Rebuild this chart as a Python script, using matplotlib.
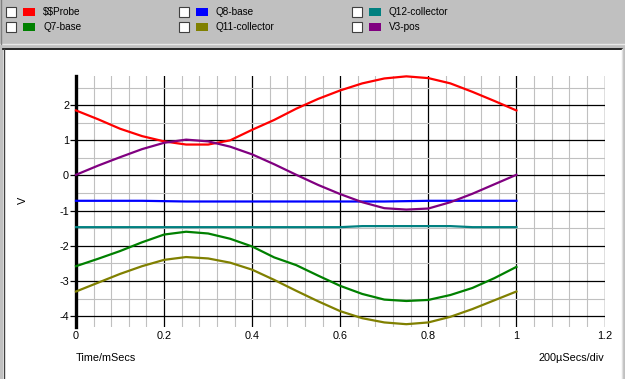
import matplotlib
matplotlib.use("Agg")
import matplotlib.pyplot as plt
from matplotlib.patches import Rectangle
from matplotlib.ticker import MultipleLocator

# ---------------- data ----------------
time_ms = [0.0, 0.05, 0.1, 0.15, 0.2, 0.25, 0.3, 0.35, 0.4, 0.45, 0.5,
           0.55, 0.6, 0.65, 0.7, 0.75, 0.8, 0.85, 0.9, 0.95, 1.0]
probe = [1.85, 1.6, 1.33, 1.12, 0.97, 0.88, 0.88, 1.0, 1.3, 1.58, 1.9,
         2.18, 2.42, 2.62, 2.76, 2.82, 2.77, 2.62, 2.38, 2.12, 1.85]
q8_base = [-0.72, -0.72, -0.72, -0.72, -0.73, -0.74, -0.74, -0.74, -0.74, -0.74, -0.74,
           -0.74, -0.74, -0.74, -0.74, -0.73, -0.72, -0.72, -0.72, -0.72, -0.72]
q12_collector = [-1.47, -1.47, -1.47, -1.47, -1.47, -1.47, -1.47, -1.47, -1.47, -1.47, -1.47,
                 -1.47, -1.47, -1.44, -1.44, -1.44, -1.44, -1.44, -1.47, -1.47, -1.47]
q7_base = [-2.58, -2.37, -2.15, -1.9, -1.68, -1.6, -1.65, -1.8, -2.02, -2.33, -2.55,
           -2.85, -3.14, -3.37, -3.53, -3.57, -3.54, -3.4, -3.2, -2.92, -2.6]
q11_collector = [-3.3, -3.05, -2.8, -2.58, -2.4, -2.32, -2.36, -2.48, -2.68, -2.97, -3.28,
                 -3.58, -3.86, -4.06, -4.18, -4.23, -4.18, -4.02, -3.8, -3.55, -3.3]
v3_pos = [0.02, 0.28, 0.52, 0.75, 0.93, 1.02, 0.97, 0.82, 0.6, 0.32, 0.02,
          -0.27, -0.53, -0.76, -0.93, -0.97, -0.94, -0.76, -0.52, -0.25, 0.02]

series_names = ["$$Probe", "Q8-base", "Q12-collector", "Q7-base", "Q11-collector", "V3-pos"]
series_colors = ["#ff0000", "#0000ff", "#008080", "#008000", "#808000", "#800080"]
series_data = [probe, q8_base, q12_collector, q7_base, q11_collector, v3_pos]

x_ticks = [0, 0.2, 0.4, 0.6, 0.8, 1, 1.2]
x_tick_labels = ["0", "0.2", "0.4", "0.6", "0.8", "1", "1.2"]
y_ticks = [-4, -3, -2, -1, 0, 1, 2]

# ---------------- figure ----------------
W, H = 625, 379
plt.rcParams['font.family'] = ['Liberation Sans', 'DejaVu Sans']
fig = plt.figure(figsize=(W / 100, H / 100), dpi=100, facecolor="#c0c0c0")
FS = 7.8
LFS = 7.2


def fx(px):
    return px / W


def fy(py):
    return 1 - py / H


# white plot panel
fig.patches.append(Rectangle((fx(3), 0), fx(619), fy(48), transform=fig.transFigure,
                             facecolor="white", edgecolor="none", zorder=-5))
# panel borders
fig.add_artist(plt.Line2D([fx(3), fx(622)], [fy(48.5), fy(48.5)], transform=fig.transFigure,
                          color="#000000", lw=1.2, zorder=-4))
fig.add_artist(plt.Line2D([fx(3.5), fx(3.5)], [0, fy(48.5)], transform=fig.transFigure,
                          color="#404040", lw=1.0, zorder=-4))
fig.add_artist(plt.Line2D([fx(621.5), fx(621.5)], [0, fy(48.5)], transform=fig.transFigure,
                          color="#e0e0e0", lw=1.0, zorder=-4))
fig.add_artist(plt.Line2D([0, fx(625)], [fy(44), fy(44)], transform=fig.transFigure,
                          color="#e8e8e8", lw=1.0, zorder=-4))
fig.add_artist(plt.Line2D([fx(1), fx(1)], [fy(44), fy(0)], transform=fig.transFigure,
                          color="#808080", lw=1.0, zorder=-4))

# legend (check boxes + swatches)
col_x = [6, 179, 352]
row_y = [12, 27]
order = [(0, 0, 0), (1, 0, 1), (2, 0, 2), (3, 1, 0), (4, 1, 1), (5, 1, 2)]
for idx, r, c in order:
    bx = col_x[c]
    cy = row_y[r]
    fig.patches.append(Rectangle((fx(bx), fy(cy + 5)), fx(10), 10 / H, transform=fig.transFigure,
                                 facecolor="white", edgecolor="#404040", lw=0.8, zorder=2))
    fig.patches.append(Rectangle((fx(bx + 17), fy(cy + 4)), fx(12), 8 / H, transform=fig.transFigure,
                                 facecolor=series_colors[idx], edgecolor="none", zorder=2))
    fig.text(fx(bx + 37), fy(cy), series_names[idx], fontsize=LFS, ha="left", va="center",
             color="black", parse_math=False)

# axes
ax = fig.add_axes([fx(76), fy(327), fx(604.5 - 76), (327 - 76) / H])
ax.set_facecolor("none")
ax.set_xlim(0, 1.2)
ax.set_ylim(-4.31, 2.83)

ax.xaxis.set_minor_locator(MultipleLocator(0.04))
ax.yaxis.set_minor_locator(MultipleLocator(0.5))
ax.set_xticks(x_ticks)
ax.set_xticklabels(x_tick_labels)
ax.set_yticks(y_ticks)
ax.set_yticklabels([str(v) for v in y_ticks])

ax.grid(which="minor", color="#c0c0c0", lw=0.8, zorder=0)
ax.grid(which="major", color="#000000", lw=0.9, zorder=1)
ax.set_axisbelow(True)

for s in ["top", "right", "bottom"]:
    ax.spines[s].set_visible(False)
ax.spines["left"].set_linewidth(2.4)
ax.spines["left"].set_color("black")

ax.tick_params(axis="y", which="major", length=4, width=0.9, pad=1, labelsize=FS)
ax.tick_params(axis="x", which="major", length=0, pad=3, labelsize=FS)
ax.tick_params(which="minor", length=0)

for data, col in zip(series_data, series_colors):
    ax.plot(time_ms, data, color=col, lw=1.6, zorder=3, clip_on=False)

fig.text(fx(23), fy(200), "V", rotation=90, fontsize=FS, ha="center", va="center")
fig.text(fx(76), fy(358), "Time/mSecs", fontsize=FS, ha="left", va="center")
fig.text(fx(604), fy(358), "200\u00b5Secs/div", fontsize=FS, ha="right", va="center")

fig.savefig("out.png", dpi=100, facecolor=fig.get_facecolor())
